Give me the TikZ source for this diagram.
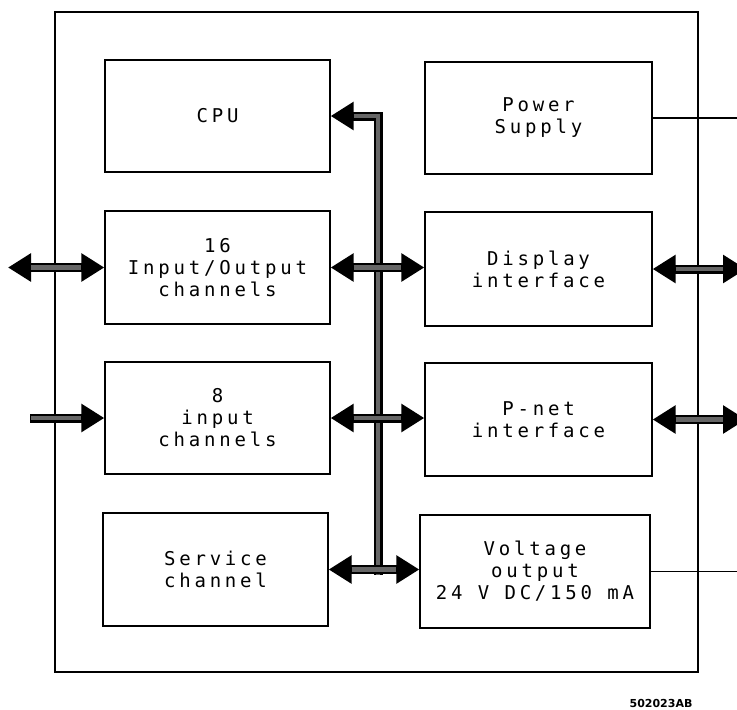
\documentclass[tikz,border=0pt]{standalone}
\usepackage{fontspec}
\newfontfamily\plotfont[LetterSpace=20]{DejaVu Sans Mono}
\newfontfamily\labfont{DejaVu Sans}
\usetikzlibrary{arrows.meta}
\definecolor{shaft}{gray}{0.4}
\begin{document}
\begin{tikzpicture}[x=1pt,y=-1pt,
  >={Triangle[length=23pt,width=27pt]},
  box/.style={draw,line width=1.3pt,inner sep=0pt,align=center,
    font=\plotfont\fontsize{19}{22}\selectfont},
  fat/.style={line width=9pt,line join=miter},
  fatin/.style={line width=4.5pt,draw=shaft,line join=miter},
  thin/.style={line width=1.3pt}]
\useasboundingbox (0,0) rectangle (737,710);
\draw[thin] (55,12) rectangle (698,672);
% boxes
\node[box,minimum width=225pt,minimum height=112pt] (cpu) at (217.5,116) {CPU};
\node[box,minimum width=225pt,minimum height=113pt] (io) at (217.5,267.5) {16\\Input/Output\\channels};
\node[box,minimum width=225pt,minimum height=112pt] (inp) at (217.5,418) {8\\input\\channels};
\node[box,minimum width=225pt,minimum height=113pt] (svc) at (215.5,569.5) {Service\\channel};
\node[box,minimum width=227pt,minimum height=112pt] (ps) at (538.5,118) {Power\\Supply};
\node[box,minimum width=227pt,minimum height=114pt] (disp) at (538.5,269) {Display\\interface};
\node[box,minimum width=227pt,minimum height=113pt] (pnet) at (538.5,419.5) {P-net\\interface};
\node[box,minimum width=230pt,minimum height=113pt] (volt) at (535,571.5) {Voltage\\output\\24 V DC/150 mA};
% coordinates
\coordinate (bus) at (378,0);
\coordinate (busend) at (378,575);
\coordinate (ioext) at (8,267.5);
\coordinate (inext) at (30,418);
\coordinate (dispext) at (746,269);
\coordinate (pnetext) at (746,419.5);
\coordinate (psext) at (737,118);
\coordinate (voltext) at (737,571.5);
% bus
\draw[fat,<-] (cpu.east) -- (cpu.east -| bus) -- (busend);
\draw[fatin,shorten <=23pt] (cpu.east) -- (cpu.east -| bus) -- (busend);
% internal arrows
\foreach \a/\b in {io/disp,inp/pnet,svc/volt}{
  \draw[fat,<->] (\a.east) -- (\a.east -| \b.west);
  \draw[fatin,shorten <=23pt,shorten >=23pt] (\a.east) -- (\a.east -| \b.west);
}
% external arrows
\draw[fat,<->] (ioext) -- (io.west);
\draw[fatin,shorten <=23pt,shorten >=23pt] (ioext) -- (io.west);
\draw[fat,->] (inext) -- (inp.west);
\draw[fatin,shorten <=1pt,shorten >=23pt] (inext) -- (inp.west);
\draw[fat,<->] (disp.east) -- (dispext);
\draw[fatin,shorten <=23pt,shorten >=23pt] (disp.east) -- (dispext);
\draw[fat,<->] (pnet.east) -- (pnetext);
\draw[fatin,shorten <=23pt,shorten >=23pt] (pnet.east) -- (pnetext);
% plain lines
\draw[thin] (ps.east) -- (psext);
\draw[thin] (volt.east) -- (voltext);
\node[font=\labfont\bfseries\fontsize{11}{12}\selectfont] (code) at (661,703) {502023AB};
\end{tikzpicture}
\end{document}
